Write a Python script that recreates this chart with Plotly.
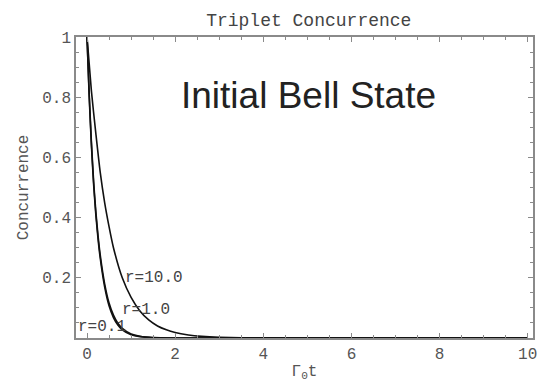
import plotly.graph_objects as go

# Concurrence vs scaled time Γ0·t for three values of r
t_r10 = [0, 0.1, 0.2, 0.3, 0.4, 0.5, 0.6, 0.8, 1.0, 1.2, 1.4, 1.6, 1.8, 2.0, 2.3, 2.6, 3.0, 3.5, 4.0, 5.0, 6.0, 8.0, 10.0]
c_r10 = [1.0, 0.82, 0.68, 0.55, 0.45, 0.37, 0.30, 0.20, 0.135, 0.09, 0.06, 0.04, 0.027, 0.018, 0.010, 0.0055, 0.0025, 0.001, 0.0003, 0, 0, 0, 0]

t_r1 = [0, 0.05, 0.1, 0.15, 0.2, 0.25, 0.3, 0.4, 0.5, 0.6, 0.7, 0.8, 1.0, 1.2, 1.5, 2.0, 3.0, 4.0, 6.0, 10.0]
c_r1 = [1.0, 0.81, 0.65, 0.52, 0.42, 0.34, 0.275, 0.18, 0.116, 0.076, 0.049, 0.032, 0.0135, 0.006, 0.0016, 0.0002, 0, 0, 0, 0]

t_r01 = [0, 0.05, 0.1, 0.15, 0.2, 0.25, 0.3, 0.4, 0.5, 0.6, 0.7, 0.8, 1.0, 1.2, 1.5, 2.0, 3.0, 4.0, 6.0, 10.0]
c_r01 = [1.0, 0.80, 0.64, 0.51, 0.41, 0.33, 0.265, 0.17, 0.107, 0.068, 0.043, 0.027, 0.011, 0.0045, 0.001, 0, 0, 0, 0, 0]

curve_labels = ["r=10.0", "r=1.0", "r=0.1"]
label_x = [0.81, 0.74, -0.25]
label_y = [0.20, 0.093, 0.036]

x_ticks = [0, 2, 4, 6, 8, 10]
y_ticks = [0.2, 0.4, 0.6, 0.8, 1.0]
y_tick_text = ["0.2", "0.4", "0.6", "0.8", "1"]

mono = "Liberation Mono, Courier New, monospace"

fig = go.Figure()
for tx, cy in [(t_r10, c_r10), (t_r1, c_r1), (t_r01, c_r01)]:
    fig.add_trace(go.Scatter(x=tx, y=cy, mode="lines",
                             line=dict(color="#111111", width=1.6, shape="spline", smoothing=0.6),
                             showlegend=False, hoverinfo="skip"))

for txt, lx, ly in zip(curve_labels, label_x, label_y):
    fig.add_annotation(x=lx, y=ly, text=txt, showarrow=False, xanchor="left", yanchor="middle",
                       font=dict(family=mono, size=16, color="#444444"))

fig.add_annotation(x=2.09, y=0.805, xref="x", yref="paper", text="Initial Bell State", showarrow=False,
                   xanchor="left", yanchor="middle",
                   font=dict(family="Liberation Sans, Arial, sans-serif", size=37, color="#222222"))

axis_common = dict(showline=True, linecolor="#8a8a8a", linewidth=1.5, mirror="ticks",
                   ticks="inside", tickcolor="#8a8a8a", tickwidth=1, showgrid=False, zeroline=False,
                   ticklabeloverflow="allow",
                   tickfont=dict(family=mono, size=16, color="#555555"))

fig.update_xaxes(range=[-0.25, 10.12], tickvals=x_ticks, ticklen=5,
                 minor=dict(dtick=0.5, tick0=0, ticks="inside", ticklen=3, tickcolor="#8a8a8a"),
                 title=dict(text="Γ<sub>0</sub>t", font=dict(family=mono, size=16, color="#555555"), standoff=6),
                 **axis_common)
fig.update_yaxes(range=[0, 1], tickvals=y_ticks, ticktext=y_tick_text, ticklen=5,
                 minor=dict(dtick=0.05, tick0=0, ticks="inside", ticklen=3, tickcolor="#8a8a8a"),
                 title=dict(text="Concurrence", font=dict(family=mono, size=16, color="#555555"), standoff=10),
                 **axis_common)

fig.update_layout(
    width=537, height=382,
    margin=dict(l=76, r=0, t=37, b=44),
    paper_bgcolor="white", plot_bgcolor="white",
    title=dict(text="Triplet Concurrence", x=0.575, xanchor="center", y=0.948, yanchor="middle",
               font=dict(family=mono, size=18, color="#444444")),
)

fig.write_html("out.html")
